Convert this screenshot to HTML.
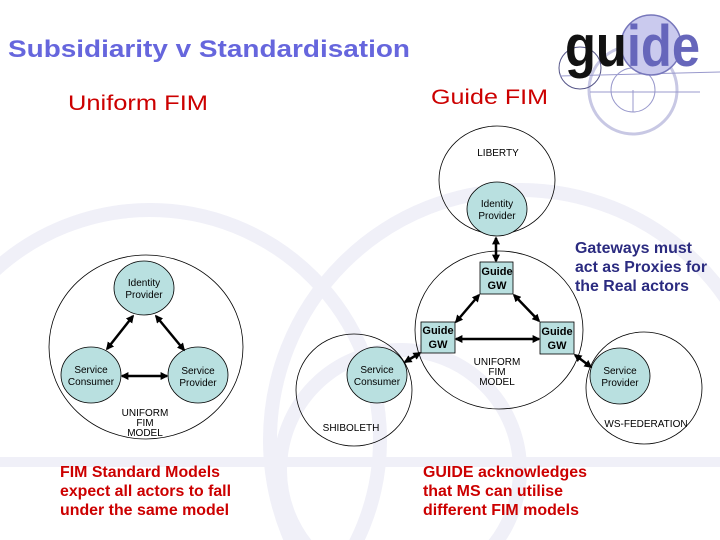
<!DOCTYPE html>
<html><head><meta charset="utf-8"><style>
html,body{margin:0;padding:0;background:#fff;overflow:hidden;width:720px;height:540px;}
svg{display:block;}
</style></head><body>
<svg width="720" height="540" viewBox="0 0 720 540" xmlns="http://www.w3.org/2000/svg" font-family="Liberation Sans, sans-serif" overflow="hidden">
<defs>
<marker id="a" viewBox="0 0 10 10" refX="8" refY="5" markerWidth="3.2" markerHeight="3.2" orient="auto-start-reverse"><path d="M0,0 L10,5 L0,10 z" fill="#000"/></marker>
</defs>
<g fill="none" stroke="#f0f0f8" stroke-width="14">
<circle cx="150" cy="440" r="230"/>
<circle cx="520" cy="440" r="250"/>
<circle cx="400" cy="470" r="120"/>
<line x1="0" y1="462" x2="720" y2="462" stroke-width="10"/>
</g>
<g fill="none">
<circle cx="633" cy="90" r="44" stroke="#c8c8e4" stroke-width="3"/>
<circle cx="633" cy="90" r="22" stroke="#9999cc" stroke-width="1"/>
<circle cx="580" cy="68" r="21" stroke="#555588" stroke-width="1"/>
<line x1="560" y1="76" x2="720" y2="72" stroke="#9999cc"/>
<line x1="590" y1="92" x2="700" y2="92" stroke="#9999cc"/>
<line x1="633" y1="90" x2="633" y2="112" stroke="#9999cc"/>
<circle cx="651" cy="45" r="30" fill="#cacaee" stroke="#7777bb" stroke-width="1.5"/>
</g>
<text x="565" y="66" font-size="58" font-weight="bold" textLength="135" lengthAdjust="spacingAndGlyphs"><tspan fill="#111">gu</tspan><tspan fill="#6666bb">ide</tspan></text>
<text x="8" y="57" font-size="24" font-weight="bold" fill="#6666dd" textLength="402" lengthAdjust="spacingAndGlyphs">Subsidiarity v Standardisation</text>
<text x="68" y="110" font-size="21" fill="#cc0000" textLength="140" lengthAdjust="spacingAndGlyphs">Uniform FIM</text>
<text x="431" y="104" font-size="21" fill="#cc0000" textLength="117" lengthAdjust="spacingAndGlyphs">Guide FIM</text>
<g stroke="#000" stroke-width="0.8">
<ellipse cx="146" cy="347" rx="97" ry="92" fill="none"/>
<ellipse cx="144" cy="288" rx="30" ry="27" fill="#b9e0e0"/>
<ellipse cx="91" cy="375" rx="30" ry="28" fill="#b9e0e0"/>
<ellipse cx="198" cy="375" rx="30" ry="28" fill="#b9e0e0"/>
</g>
<g stroke="#000" stroke-width="2.5" marker-start="url(#a)" marker-end="url(#a)">
<line x1="133" y1="316" x2="107" y2="349"/>
<line x1="156" y1="316" x2="184" y2="350"/>
<line x1="122" y1="376" x2="167" y2="376"/>
</g>
<g font-size="10" fill="#000" text-anchor="middle">
<text x="144" y="286">Identity</text><text x="144" y="298">Provider</text>
<text x="91" y="373">Service</text><text x="91" y="385">Consumer</text>
<text x="198" y="374">Service</text><text x="198" y="386">Provider</text>
<text x="145" y="416">UNIFORM</text><text x="145" y="426">FIM</text><text x="145" y="436">MODEL</text>
</g>
<g stroke="#000" stroke-width="0.8" fill="none">
<ellipse cx="497" cy="180" rx="58" ry="54"/>
<ellipse cx="499" cy="330" rx="84" ry="79"/>
<ellipse cx="354" cy="390" rx="58" ry="56"/>
<ellipse cx="644" cy="388" rx="58" ry="56"/>
</g>
<g stroke="#000" stroke-width="0.8" fill="#b9e0e0">
<ellipse cx="497" cy="209" rx="30" ry="27"/>
<ellipse cx="377" cy="375" rx="30" ry="28"/>
<ellipse cx="620" cy="376" rx="30" ry="28"/>
<rect x="480" y="262" width="33" height="32"/>
<rect x="421" y="322" width="34" height="31"/>
<rect x="540" y="322" width="34" height="32"/>
</g>
<g stroke="#000" stroke-width="2.5" marker-start="url(#a)" marker-end="url(#a)">
<line x1="496" y1="238" x2="496" y2="261"/>
<line x1="479" y1="295" x2="456" y2="322"/>
<line x1="514" y1="295" x2="539" y2="321"/>
<line x1="456" y1="339" x2="539" y2="339"/>
<line x1="420" y1="353" x2="405" y2="362"/>
<line x1="575" y1="355" x2="591" y2="367"/>
</g>
<g font-size="10" fill="#000" text-anchor="middle">
<text x="498" y="156">LIBERTY</text>
<text x="497" y="207">Identity</text><text x="497" y="219">Provider</text>
<text x="377" y="373">Service</text><text x="377" y="385">Consumer</text>
<text x="620" y="374">Service</text><text x="620" y="386">Provider</text>
<text x="497" y="365">UNIFORM</text><text x="497" y="375">FIM</text><text x="497" y="385">MODEL</text>
<text x="351" y="431">SHIBOLETH</text>
<text x="646" y="427">WS-FEDERATION</text>
</g>
<g font-size="11" font-weight="bold" fill="#000" text-anchor="middle">
<text x="497" y="275">Guide</text><text x="497" y="289">GW</text>
<text x="438" y="334">Guide</text><text x="438" y="348">GW</text>
<text x="557" y="335">Guide</text><text x="557" y="349">GW</text>
</g>
<g font-size="15.5" font-weight="bold" fill="#2b2b80">
<text x="575" y="253" textLength="117" lengthAdjust="spacingAndGlyphs">Gateways must</text>
<text x="575" y="272" textLength="132" lengthAdjust="spacingAndGlyphs">act as Proxies for</text>
<text x="575" y="291" textLength="114" lengthAdjust="spacingAndGlyphs">the Real actors</text>
</g>
<g font-size="15.5" font-weight="bold" fill="#cc0000">
<text x="60" y="477" textLength="160" lengthAdjust="spacingAndGlyphs">FIM Standard Models</text>
<text x="60" y="496" textLength="171" lengthAdjust="spacingAndGlyphs">expect all actors to fall</text>
<text x="60" y="515" textLength="169" lengthAdjust="spacingAndGlyphs">under the same model</text>
<text x="423" y="477" textLength="164" lengthAdjust="spacingAndGlyphs">GUIDE acknowledges</text>
<text x="423" y="496" textLength="140" lengthAdjust="spacingAndGlyphs">that MS can utilise</text>
<text x="423" y="515" textLength="156" lengthAdjust="spacingAndGlyphs">different FIM models</text>
</g>
</svg>
</body></html>
